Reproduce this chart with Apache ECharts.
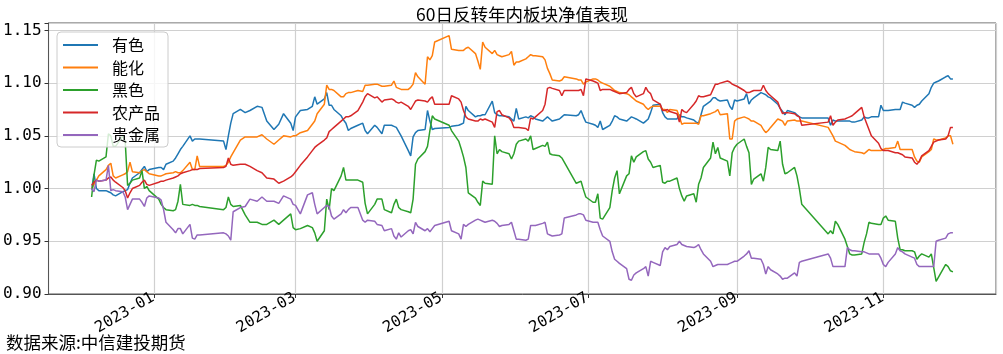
<!DOCTYPE html>
<html>
<head>
<meta charset="utf-8">
<script src="https://cdn.jsdelivr.net/npm/echarts@6/dist/echarts.min.js"></script>
<style>
html, body { margin: 0; padding: 0; background: #fff; }
#chart { width: 1003px; height: 354px; }
</style>
</head>
<body>
<div id="chart"></div>
<script>
// trading days (one line per month)
var dates = [
    '2022-12-06','2022-12-07','2022-12-08','2022-12-09','2022-12-12','2022-12-13','2022-12-14','2022-12-15','2022-12-16','2022-12-19','2022-12-20','2022-12-21','2022-12-22','2022-12-23','2022-12-26','2022-12-27','2022-12-28','2022-12-29','2022-12-30',
    '2023-01-03','2023-01-04','2023-01-05','2023-01-06','2023-01-09','2023-01-10','2023-01-11','2023-01-12','2023-01-13','2023-01-16','2023-01-17','2023-01-18','2023-01-19','2023-01-20','2023-01-30','2023-01-31',
    '2023-02-01','2023-02-02','2023-02-03','2023-02-06','2023-02-08','2023-02-10','2023-02-13','2023-02-15','2023-02-17','2023-02-20','2023-02-22','2023-02-24','2023-02-27','2023-02-28',
    '2023-03-01','2023-03-03','2023-03-06','2023-03-08','2023-03-09','2023-03-10','2023-03-13','2023-03-14','2023-03-15','2023-03-16','2023-03-17','2023-03-20','2023-03-21','2023-03-22','2023-03-23','2023-03-24','2023-03-27','2023-03-29','2023-03-30','2023-03-31',
    '2023-04-03','2023-04-04','2023-04-06','2023-04-07','2023-04-10','2023-04-11','2023-04-12','2023-04-13','2023-04-14','2023-04-17','2023-04-18','2023-04-19','2023-04-20','2023-04-21','2023-04-24','2023-04-25','2023-04-26','2023-04-27','2023-04-28',
    '2023-05-04','2023-05-05','2023-05-08','2023-05-09','2023-05-10','2023-05-11','2023-05-12','2023-05-15','2023-05-16','2023-05-17','2023-05-18','2023-05-19','2023-05-22','2023-05-23','2023-05-24','2023-05-25','2023-05-26','2023-05-29','2023-05-30','2023-05-31',
    '2023-06-01','2023-06-02','2023-06-05','2023-06-06','2023-06-07','2023-06-08','2023-06-09','2023-06-12','2023-06-13','2023-06-14','2023-06-15','2023-06-16','2023-06-19','2023-06-20','2023-06-21','2023-06-26','2023-06-27','2023-06-28','2023-06-29','2023-06-30',
    '2023-07-03','2023-07-04','2023-07-05','2023-07-06','2023-07-07','2023-07-10','2023-07-11','2023-07-12','2023-07-13','2023-07-14','2023-07-17','2023-07-18','2023-07-19','2023-07-20','2023-07-21','2023-07-24','2023-07-25','2023-07-26','2023-07-27','2023-07-28','2023-07-31',
    '2023-08-01','2023-08-02','2023-08-03','2023-08-04','2023-08-07','2023-08-08','2023-08-09','2023-08-10','2023-08-11','2023-08-14','2023-08-15','2023-08-16','2023-08-17','2023-08-18','2023-08-21','2023-08-22','2023-08-23','2023-08-24','2023-08-25','2023-08-28','2023-08-29','2023-08-30','2023-08-31',
    '2023-09-01','2023-09-04','2023-09-05','2023-09-06','2023-09-07','2023-09-08','2023-09-11','2023-09-12','2023-09-13','2023-09-14','2023-09-15','2023-09-18','2023-09-19','2023-09-20','2023-09-21','2023-09-22','2023-09-25','2023-09-26','2023-09-27','2023-09-28',
    '2023-10-09','2023-10-10','2023-10-11','2023-10-12','2023-10-13','2023-10-16','2023-10-17','2023-10-18','2023-10-19','2023-10-20','2023-10-23','2023-10-24','2023-10-25','2023-10-26','2023-10-27','2023-10-30','2023-10-31',
    '2023-11-01','2023-11-02','2023-11-03','2023-11-06','2023-11-07','2023-11-08','2023-11-09','2023-11-10','2023-11-13','2023-11-14','2023-11-15','2023-11-16','2023-11-17','2023-11-20','2023-11-21','2023-11-22','2023-11-23','2023-11-24','2023-11-27','2023-11-28','2023-11-29','2023-11-30'
];

// 有色
var youse = [
    0.999,1.014,1.000,0.998,0.998,0.997,0.996,0.994,0.993,0.997,0.998,0.999,1.005,1.010,1.015,1.018,1.021,1.016,1.018,
    1.020,1.020,1.018,1.023,1.026,1.029,1.033,1.037,1.040,1.050,1.045,1.047,1.047,1.047,1.045,1.037,
    1.050,1.062,1.071,1.075,1.072,1.074,1.078,1.077,1.064,1.056,1.061,1.071,1.062,1.055,
    1.068,1.074,1.075,1.078,1.087,1.080,1.085,1.091,1.079,1.079,1.075,1.069,1.065,1.062,1.055,1.057,1.060,1.062,1.055,1.052,
    1.060,1.058,1.052,1.060,1.060,1.059,1.058,1.054,1.050,1.036,1.031,1.049,1.053,1.055,1.056,1.074,1.064,1.056,1.057,
    1.058,1.059,1.060,1.061,1.062,1.078,1.074,1.068,1.069,1.069,1.070,1.070,1.083,1.072,1.070,1.069,1.069,1.068,1.066,1.064,
    1.076,1.066,1.068,1.067,1.069,1.068,1.066,1.064,1.066,1.068,1.066,1.064,1.066,1.068,1.070,1.069,1.070,1.074,1.068,1.063,
    1.061,1.060,1.058,1.064,1.056,1.060,1.064,1.069,1.068,1.066,1.064,1.066,1.068,1.067,1.066,1.062,1.064,1.066,1.072,1.079,1.080,
    1.072,1.068,1.066,1.066,1.066,1.070,1.068,1.068,1.067,1.065,1.063,1.062,1.070,1.078,1.083,1.086,1.086,1.084,1.083,1.084,1.078,1.075,1.084,
    1.083,1.085,1.090,1.080,1.084,1.086,1.091,1.090,1.089,1.087,1.086,1.080,1.076,1.073,1.070,1.074,1.072,1.070,1.068,1.067,
    1.067,1.060,1.065,1.064,1.064,1.064,1.064,1.064,1.063,1.063,1.065,1.068,1.067,1.067,1.068,1.068,1.079,
    1.074,1.074,1.074,1.075,1.075,1.075,1.082,1.081,1.079,1.077,1.079,1.080,1.083,1.090,1.096,1.100,1.101,1.102,1.106,1.107,1.104,1.104
];

// 能化
var nenghua = [
    1.000,1.004,1.008,1.012,1.018,1.022,1.024,1.012,1.010,1.013,1.014,1.016,1.025,1.016,1.015,1.017,1.018,1.016,1.014,
    1.012,1.012,1.013,1.014,1.015,1.016,1.015,1.015,1.017,1.025,1.018,1.018,1.031,1.021,1.021,1.022,
    1.025,1.030,1.034,1.046,1.049,1.049,1.049,1.051,1.047,1.042,1.046,1.050,1.049,1.050,
    1.050,1.053,1.055,1.061,1.064,1.071,1.080,1.098,1.094,1.094,1.093,1.087,1.087,1.090,1.091,1.091,1.093,1.092,1.098,1.098,
    1.099,1.099,1.097,1.097,1.098,1.102,1.096,1.095,1.094,1.094,1.096,1.099,1.110,1.106,1.099,1.125,1.122,1.126,1.139,
    1.145,1.132,1.131,1.131,1.131,1.133,1.134,1.128,1.121,1.113,1.139,1.134,1.128,1.131,1.127,1.126,1.125,1.127,1.130,1.117,
    1.120,1.120,1.123,1.125,1.127,1.126,1.126,1.125,1.122,1.114,1.109,1.103,1.102,1.103,1.106,1.104,1.103,1.103,1.099,1.101,
    1.104,1.104,1.103,1.101,1.100,1.097,1.095,1.093,1.092,1.091,1.090,1.089,1.087,1.085,1.083,1.080,1.077,1.075,1.077,1.078,1.078,
    1.075,1.075,1.072,1.075,1.074,1.068,1.061,1.062,1.062,1.062,1.062,1.061,1.069,1.069,1.071,1.072,1.073,1.075,1.070,1.071,1.047,1.047,1.064,
    1.066,1.068,1.067,1.066,1.064,1.064,1.060,1.056,1.053,1.055,1.058,1.066,1.065,1.064,1.060,1.064,1.065,1.064,1.064,1.064,
    1.058,1.054,1.050,1.045,1.044,1.041,1.039,1.037,1.036,1.035,1.034,1.033,1.035,1.037,1.036,1.036,1.036,
    1.037,1.038,1.038,1.039,1.045,1.037,1.037,1.037,1.037,1.030,1.026,1.025,1.030,1.035,1.037,1.047,1.046,1.046,1.048,1.050,1.050,1.042
];

// 黑色
var heise = [
    0.992,1.013,1.027,1.026,1.030,1.052,1.050,1.040,1.040,1.050,1.045,1.003,1.005,1.008,1.010,1.017,1.000,1.002,0.998,
    0.990,0.985,0.982,0.980,0.979,0.980,0.988,1.004,0.985,0.984,0.985,0.984,0.984,0.983,0.980,0.982,
    0.992,0.985,0.983,0.984,0.975,0.968,0.968,0.966,0.966,0.970,0.966,0.970,0.976,0.963,
    0.961,0.962,0.965,0.963,0.958,0.950,0.960,0.990,0.980,1.000,0.998,1.012,1.020,1.008,1.008,1.008,1.008,1.006,0.986,0.976,
    0.985,0.990,0.990,0.980,0.977,0.985,0.990,0.982,0.980,0.978,0.977,0.990,1.023,1.028,1.035,1.040,1.055,1.069,1.066,
    1.060,1.055,1.045,1.038,1.030,1.020,0.996,0.991,0.987,0.984,1.007,1.005,1.004,1.050,1.033,1.037,1.035,1.033,1.028,1.033,
    1.042,1.045,1.047,1.045,1.050,1.037,1.038,1.041,1.040,1.044,1.033,1.032,1.031,1.029,1.025,1.005,1.006,1.007,0.999,0.992,
    0.987,0.987,0.995,0.972,0.971,0.982,0.998,1.010,1.017,0.995,1.012,1.014,1.031,1.025,1.030,1.035,1.036,1.028,1.025,1.020,1.022,
    1.006,1.005,1.007,1.007,1.010,1.000,0.993,0.988,0.993,0.995,0.987,1.004,1.010,1.020,1.029,1.044,1.033,1.039,1.029,1.026,1.012,1.034,1.039,
    1.042,1.047,1.040,1.034,1.004,1.009,1.014,1.007,1.020,1.039,1.037,1.036,1.045,1.023,1.014,1.015,1.020,1.012,1.000,0.985,
    0.957,0.960,0.957,0.969,0.966,0.952,0.945,0.938,0.937,0.937,0.938,0.949,0.957,0.968,0.967,0.966,0.966,
    0.972,0.974,0.970,0.969,0.953,0.942,0.942,0.941,0.941,0.940,0.933,0.936,0.938,0.935,0.938,0.925,0.912,0.916,0.928,0.926,0.922,0.921
];

// 农产品
var nongchanpin = [
    1.003,1.006,1.008,1.007,1.008,1.010,1.011,1.008,1.006,1.001,0.998,0.991,0.996,1.000,1.003,1.006,1.008,1.004,1.003,
    1.006,1.007,1.007,1.008,1.010,1.011,1.012,1.014,1.015,1.017,1.018,1.018,1.018,1.019,1.020,1.021,
    1.029,1.023,1.022,1.023,1.023,1.021,1.017,1.015,1.010,1.009,1.005,1.007,1.011,1.013,
    1.016,1.022,1.030,1.036,1.039,1.041,1.046,1.048,1.054,1.056,1.058,1.064,1.066,1.068,1.068,1.069,1.074,1.082,1.087,1.090,
    1.086,1.087,1.082,1.084,1.085,1.084,1.082,1.081,1.082,1.078,1.075,1.079,1.083,1.084,1.083,1.082,1.085,1.087,1.080,
    1.080,1.088,1.085,1.082,1.074,1.068,1.066,1.064,1.064,1.066,1.065,1.066,1.063,1.058,1.073,1.074,1.070,1.067,1.064,1.058,
    1.058,1.058,1.057,1.055,1.067,1.066,1.068,1.074,1.080,1.095,1.096,1.095,1.093,1.088,1.093,1.093,1.093,1.094,1.088,1.104,
    1.102,1.101,1.100,1.093,1.094,1.094,1.093,1.092,1.091,1.090,1.091,1.094,1.096,1.090,1.087,1.090,1.096,1.092,1.090,1.084,1.080,
    1.074,1.074,1.075,1.073,1.071,1.063,1.075,1.073,1.072,1.080,1.083,1.088,1.087,1.087,1.089,1.094,1.099,1.099,1.100,1.102,1.101,1.099,1.098,
    1.097,1.093,1.091,1.091,1.092,1.093,1.093,1.098,1.093,1.090,1.088,1.082,1.076,1.071,1.072,1.072,1.071,1.069,1.068,1.060,
    1.063,1.069,1.060,1.063,1.065,1.066,1.067,1.068,1.069,1.071,1.077,1.068,1.062,1.056,1.050,1.043,1.038,
    1.036,1.036,1.036,1.034,1.034,1.033,1.032,1.030,1.029,1.025,1.023,1.026,1.031,1.036,1.040,1.044,1.045,1.046,1.047,1.050,1.058,1.058
];

// 贵金属
var guijinshu = [
    1.000,0.997,1.008,1.007,1.008,1.022,0.998,0.999,0.998,0.997,0.992,0.980,0.985,0.990,0.990,0.987,0.983,0.991,0.993,
    0.991,0.989,0.980,0.968,0.961,0.958,0.962,0.962,0.957,0.966,0.953,0.952,0.956,0.956,0.958,0.957,
    0.955,0.951,0.978,0.982,0.983,0.990,0.988,0.992,0.988,0.988,0.986,0.993,0.990,0.985,
    0.984,0.976,0.994,0.996,0.985,0.976,0.982,0.984,0.983,0.974,0.971,0.976,0.980,0.977,0.980,0.982,0.982,0.970,0.968,0.970,
    0.969,0.966,0.965,0.960,0.962,0.955,0.952,0.958,0.954,0.960,0.961,0.957,0.968,0.964,0.960,0.962,0.959,0.962,0.965,
    0.969,0.960,0.957,0.952,0.966,0.964,0.966,0.970,0.971,0.970,0.969,0.968,0.970,0.969,0.967,0.964,0.965,0.966,0.968,0.960,
    0.952,0.952,0.951,0.952,0.965,0.965,0.965,0.967,0.968,0.957,0.956,0.955,0.956,0.957,0.972,0.975,0.976,0.976,0.975,0.970,
    0.968,0.968,0.968,0.961,0.955,0.950,0.940,0.933,0.931,0.929,0.924,0.914,0.913,0.918,0.920,0.924,0.926,0.917,0.931,0.930,0.927,
    0.940,0.944,0.942,0.945,0.947,0.950,0.947,0.946,0.945,0.944,0.945,0.947,0.942,0.938,0.931,0.926,0.927,0.928,0.928,0.928,0.929,0.930,0.931,
    0.931,0.936,0.938,0.941,0.934,0.934,0.933,0.928,0.919,0.926,0.923,0.919,0.917,0.914,0.915,0.915,0.920,0.917,0.930,0.931,
    0.938,0.934,0.926,0.926,0.926,0.926,0.944,0.942,0.941,0.941,0.940,0.940,0.939,0.938,0.938,0.938,0.934,
    0.928,0.926,0.930,0.938,0.944,0.941,0.940,0.938,0.935,0.934,0.928,0.926,0.926,0.926,0.926,0.926,0.950,0.951,0.953,0.957,0.958,0.958
];

var seriesNames = ['有色', '能化', '黑色', '农产品', '贵金属'];
var yTicks = [0.90, 0.95, 1.00, 1.05, 1.10, 1.15];

var chartDom = document.getElementById('chart');
var myChart = echarts.init(chartDom, null, {renderer: 'canvas'});
var option;

const colors = ['#1f77b4', '#ff7f0e', '#2ca02c', '#d62728', '#9467bd'];
var allValues = [youse, nenghua, heise, nongchanpin, guijinshu];

function pad(n) { return n < 10 ? '0' + n : '' + n; }

option = {
    animation: false,
    color: colors,
    backgroundColor: '#ffffff',
    grid: {
        left: 48,
        right: 7,
        top: 23,
        bottom: 60,
        show: true,
        borderColor: '#555555',
        borderWidth: 1
    },
    graphic: [
        {
            type: 'text',
            x: 522,
            y: 14,
            style: {
                text: '60日反转年内板块净值表现',
                fontSize: 17.5,
                fontFamily: 'Noto Sans CJK SC',
                fill: '#000000',
                align: 'center',
                verticalAlign: 'middle'
            }
        },
        {
            type: 'text',
            x: 6,
            y: 342,
            style: {
                text: '数据来源:中信建投期货',
                fontSize: 17.5,
                fontFamily: 'Noto Sans CJK SC',
                fill: '#000000',
                align: 'left',
                verticalAlign: 'middle'
            }
        }
    ],
    legend: {
        orient: 'vertical',
        left: 57,
        top: 32,
        padding: [5, 8, 4, 6],
        itemWidth: 35,
        itemHeight: 2,
        itemGap: 6.5,
        icon: 'rect',
        backgroundColor: 'rgba(255,255,255,0.8)',
        borderColor: '#cccccc',
        borderWidth: 1,
        borderRadius: 4,
        textStyle: {
            fontSize: 16,
            fontFamily: 'Noto Sans CJK SC',
            color: '#000000',
            padding: [0, 0, 0, 9]
        },
        data: seriesNames
    },
    xAxis: {
        type: 'time',
        min: new Date(2022, 10, 18, 1, 0).getTime(),
        max: new Date(2023, 11, 17, 23, 0).getTime(),
        minInterval: 70 * 86400000,
        maxInterval: 70 * 86400000,
        axisLine: {show: true, lineStyle: {color: '#555555', width: 1}},
        axisTick: {show: true, length: 4, lineStyle: {color: '#333333'}},
        splitLine: {show: true, lineStyle: {color: '#d0d0d0', width: 1.2}},
        axisLabel: {
            rotate: 30,
            margin: 2,
            padding: [0, 1, 0, 0],
            interval: 0,
            hideOverlap: false,
            showMinLabel: false,
            showMaxLabel: false,
            fontSize: 15.5,
            fontFamily: 'DejaVu Sans Mono',
            color: '#000000',
            formatter: function (v) {
                var d = new Date(v);
                return d.getFullYear() + '-' + pad(d.getMonth() + 1);
            }
        }
    },
    yAxis: {
        type: 'value',
        min: 0.90,
        max: 1.157,
        interval: 0.05,
        axisLine: {show: true, lineStyle: {color: '#555555', width: 1}},
        axisTick: {show: true, length: 4, lineStyle: {color: '#333333'}},
        splitLine: {show: true, lineStyle: {color: '#d0d0d0', width: 1.2}},
        axisLabel: {
            margin: 7,
            fontSize: 16,
            fontFamily: 'DejaVu Sans Mono',
            color: '#000000',
            formatter: function (v) {
                for (var i = 0; i < yTicks.length; i++) {
                    if (Math.abs(v - yTicks[i]) < 1e-6) return yTicks[i].toFixed(2);
                }
                return '';
            }
        }
    },
    series: seriesNames.map(function (name, k) {
        return {
            name: name,
            type: 'line',
            showSymbol: false,
            symbol: 'none',
            lineStyle: {width: 1.5, color: colors[k]},
            itemStyle: {color: colors[k]},
            data: dates.map(function (d, i) { return [d, allValues[k][i]]; })
        };
    })
};

option && myChart.setOption(option);
</script>
</body>
</html>
